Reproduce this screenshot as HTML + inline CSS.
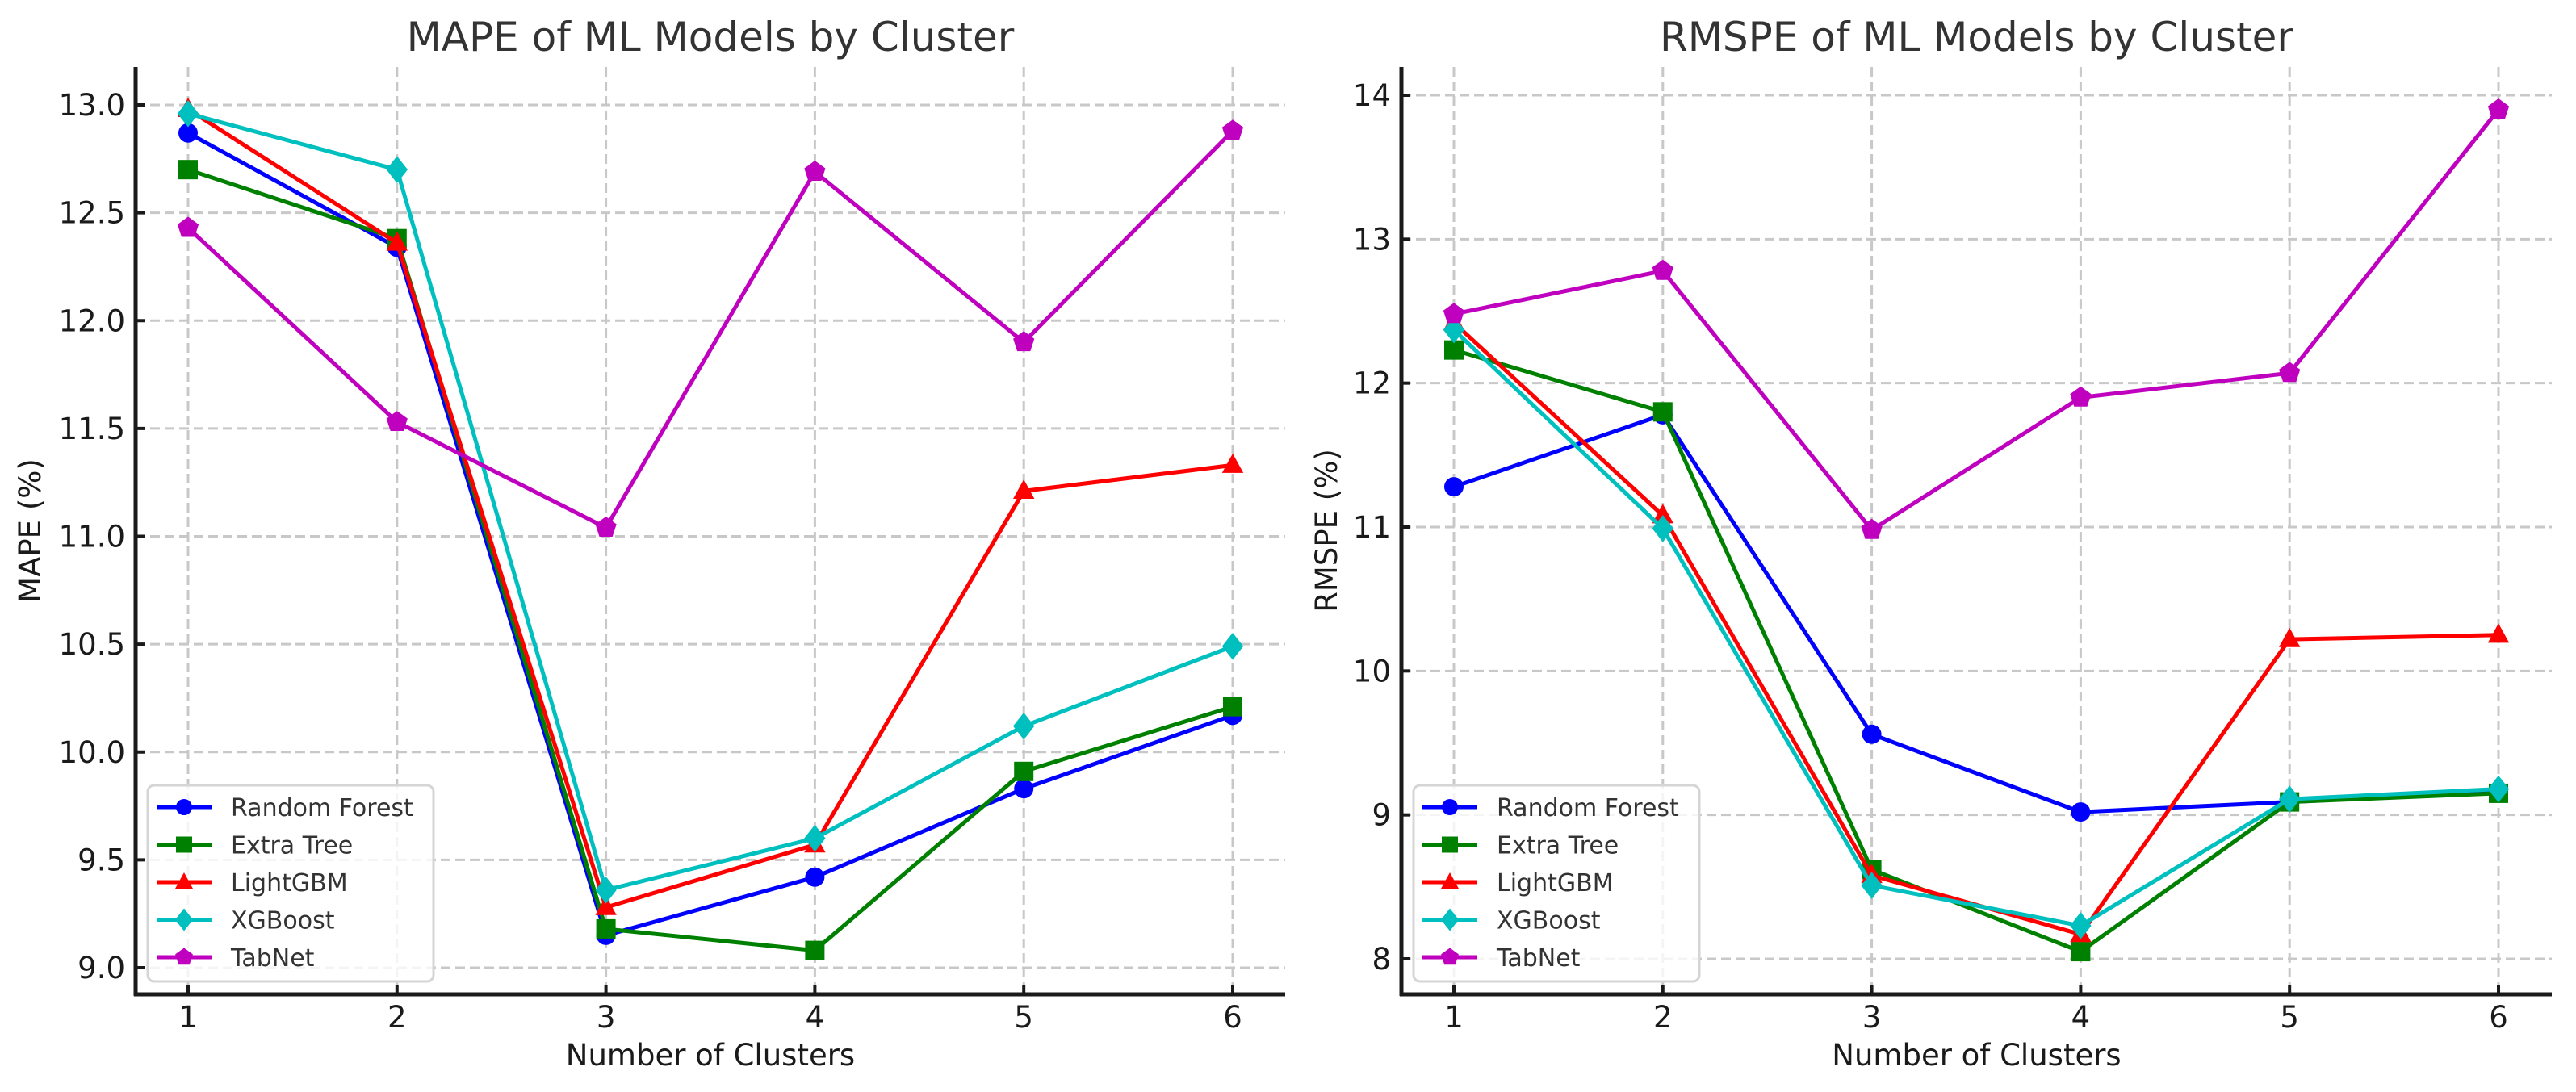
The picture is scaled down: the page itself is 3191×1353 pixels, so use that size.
<!DOCTYPE html>
<html><head><meta charset="utf-8"><style>
html,body{margin:0;padding:0;background:#fff}
svg{display:block;font-family:"DejaVu Sans","Liberation Sans",sans-serif}
</style></head><body>
<svg id="chart" width="3191" height="1353" viewBox="0 0 3191 1353" xmlns="http://www.w3.org/2000/svg"></svg>
<script>
const categories = [1, 2, 3, 4, 5, 6];
const seriesNames = ["Random Forest", "Extra Tree", "LightGBM", "XGBoost", "TabNet"];
const mapeRF = [12.87, 12.34, 9.15, 9.42, 9.83, 10.17];
const mapeET = [12.70, 12.38, 9.18, 9.08, 9.91, 10.21];
const mapeLGBM = [12.98, 12.36, 9.28, 9.57, 11.21, 11.33];
const mapeXGB = [12.96, 12.70, 9.36, 9.60, 10.12, 10.49];
const mapeTab = [12.43, 11.53, 11.04, 12.69, 11.90, 12.88];
const rmspeRF = [11.28, 11.78, 9.56, 9.02, 9.09, 9.16];
const rmspeET = [12.23, 11.80, 8.62, 8.05, 9.09, 9.15];
const rmspeLGBM = [12.42, 11.08, 8.58, 8.17, 10.22, 10.25];
const rmspeXGB = [12.37, 10.99, 8.51, 8.23, 9.11, 9.18];
const rmspeTab = [12.48, 12.78, 10.98, 11.90, 12.07, 13.90];
const mapeTicks = [9.0, 9.5, 10.0, 10.5, 11.0, 11.5, 12.0, 12.5, 13.0];
const mapeTickLabels = ["9.0","9.5","10.0","10.5","11.0","11.5","12.0","12.5","13.0"];
const rmspeTicks = [8, 9, 10, 11, 12, 13, 14];
const rmspeTickLabels = ["8","9","10","11","12","13","14"];

const NS = "http://www.w3.org/2000/svg";
const svg = document.getElementById('chart');
function mk(tag, attrs, parent, text){
  const e = document.createElementNS(NS, tag);
  for (const k in attrs) e.setAttribute(k, attrs[k]);
  if (text !== undefined) e.textContent = text;
  (parent || svg).appendChild(e);
  return e;
}
const colors = ["#0000ff", "#008000", "#ff0000", "#00bfbf", "#bf00bf"];
const markers = ["circle", "square", "triangle", "diamond", "pentagon"];

function marker(g, type, x, y, color, s){
  let e;
  if (type === "circle") e = mk('circle', {cx:x, cy:y, r:s}, g);
  else if (type === "square") e = mk('rect', {x:x-s, y:y-s, width:2*s, height:2*s}, g);
  else if (type === "triangle") e = mk('polygon', {points:`${x},${y-s*1.2} ${x+s*1.1},${y+s*0.8} ${x-s*1.1},${y+s*0.8}`}, g);
  else if (type === "diamond") e = mk('polygon', {points:`${x},${y-s*1.4} ${x+s*1.1},${y} ${x},${y+s*1.4} ${x-s*1.1},${y}`}, g);
  else {
    let pts = [];
    for (let i=0;i<5;i++){ const a=-Math.PI/2+i*2*Math.PI/5; pts.push((x+s*1.15*Math.cos(a)).toFixed(1)+','+(y+s*1.15*Math.sin(a)).toFixed(1)); }
    e = mk('polygon', {points:pts.join(' ')}, g);
  }
  e.setAttribute('fill', color);
  return e;
}

function drawPanel(cfg){
  const g = mk('g', {});
  
  
  const xs = v => cfg.x1px + (v - 1) * (cfg.x6px - cfg.x1px) / 5;
  const ys = v => cfg.yTopPx + (cfg.yTopVal - v) * (cfg.yBotPx - cfg.yTopPx) / (cfg.yTopVal - cfg.yBotVal);
  const grid = mk('g', {stroke:"#c8c8c8", "stroke-width":3, "stroke-dasharray":"12,6"}, g);
  
  
  categories.forEach(c => mk('line', {x1:xs(c), x2:xs(c), y1:cfg.top, y2:cfg.bottom}, grid));
  cfg.ticks.forEach(t => mk('line', {x1:cfg.left, x2:cfg.right, y1:ys(t), y2:ys(t)}, grid));
  cfg.series.forEach((vals, si) => {
    const sg = mk('g', {}, g);
    
    
    const pts = vals.map((v,i) => xs(categories[i]).toFixed(1) + ',' + ys(v).toFixed(1)).join(' ');
    mk('polyline', {points:pts, fill:"none", stroke:colors[si], "stroke-width":5, "stroke-linejoin":"round"}, sg);
    vals.forEach((v,i) => {
      const m = marker(sg, markers[si], xs(categories[i]), ys(v), colors[si], 12);
      
      
    });
  });
  mk('line', {x1:cfg.left, x2:cfg.left, y1:cfg.top, y2:cfg.bottom+2, stroke:"#1a1a1a", "stroke-width":5}, g);
  mk('line', {x1:cfg.left-2, x2:cfg.right, y1:cfg.bottom, y2:cfg.bottom, stroke:"#1a1a1a", "stroke-width":5}, g);
  cfg.ticks.forEach((t,i) => {
    mk('line', {x1:cfg.left, x2:cfg.left+11, y1:ys(t), y2:ys(t), stroke:"#1a1a1a", "stroke-width":4}, g);
    const tl = mk('text', {x:cfg.left-13, y:ys(t)+13, "text-anchor":"end", "font-size":37, fill:"#1a1a1a"}, g, cfg.tickLabels[i]);
    
    
  });
  categories.forEach(c => {
    mk('line', {x1:xs(c), x2:xs(c), y1:cfg.bottom, y2:cfg.bottom-11, stroke:"#1a1a1a", "stroke-width":4}, g);
    const tl = mk('text', {x:xs(c), y:cfg.bottom+41, "text-anchor":"middle", "font-size":37, fill:"#1a1a1a"}, g, String(c));
    
    
  });
  const cx = (cfg.left + cfg.right)/2;
  const title = mk('text', {x:cx, y:63, "text-anchor":"middle", "font-size":50, fill:"#333"}, g, cfg.title);
  
  
  const xl = mk('text', {x:cx, y:1320, "text-anchor":"middle", "font-size":37, fill:"#1a1a1a"}, g, "Number of Clusters");
  
  
  const ym = (cfg.top + cfg.bottom)/2;
  const yl = mk('text', {x:0, y:0, "text-anchor":"middle", "font-size":37, fill:"#1a1a1a", transform:`translate(${cfg.ylabelX},${ym}) rotate(-90)`}, g, cfg.ylabel);
  
  
  const lg = mk('g', {}, g);
  
  
  mk('rect', {x:cfg.legX, y:973, width:354, height:243, rx:8, fill:"#fff", "fill-opacity":0.8, stroke:"#d5d5d5", "stroke-width":3}, lg);
  seriesNames.forEach((n, si) => {
    const ry = 1000 + si*46.5;
    const eg = mk('g', {}, lg);
    
    
    mk('line', {x1:cfg.legX+11, x2:cfg.legX+79, y1:ry, y2:ry, stroke:colors[si], "stroke-width":5}, eg);
    marker(eg, markers[si], cfg.legX+45, ry, colors[si], 10);
    mk('text', {x:cfg.legX+103, y:ry+11, "font-size":30, fill:"#333"}, eg, n);
  });
}

drawPanel({name:"mape-chart", title:"MAPE of ML Models by Cluster", ylabel:"MAPE (%)", ylabelX:50,
  left:168, right:1592, top:83, bottom:1232, x1px:233, x6px:1527,
  yTopVal:13, yTopPx:130, yBotVal:9, yBotPx:1199,
  ticks:mapeTicks, tickLabels:mapeTickLabels, legX:183,
  series:[mapeRF, mapeET, mapeLGBM, mapeXGB, mapeTab]});
drawPanel({name:"rmspe-chart", title:"RMSPE of ML Models by Cluster", ylabel:"RMSPE (%)", ylabelX:1656,
  left:1736, right:3161, top:83, bottom:1232, x1px:1801, x6px:3095,
  yTopVal:14, yTopPx:118, yBotVal:8, yBotPx:1188,
  ticks:rmspeTicks, tickLabels:rmspeTickLabels, legX:1751,
  series:[rmspeRF, rmspeET, rmspeLGBM, rmspeXGB, rmspeTab]});
</script>
</body></html>
